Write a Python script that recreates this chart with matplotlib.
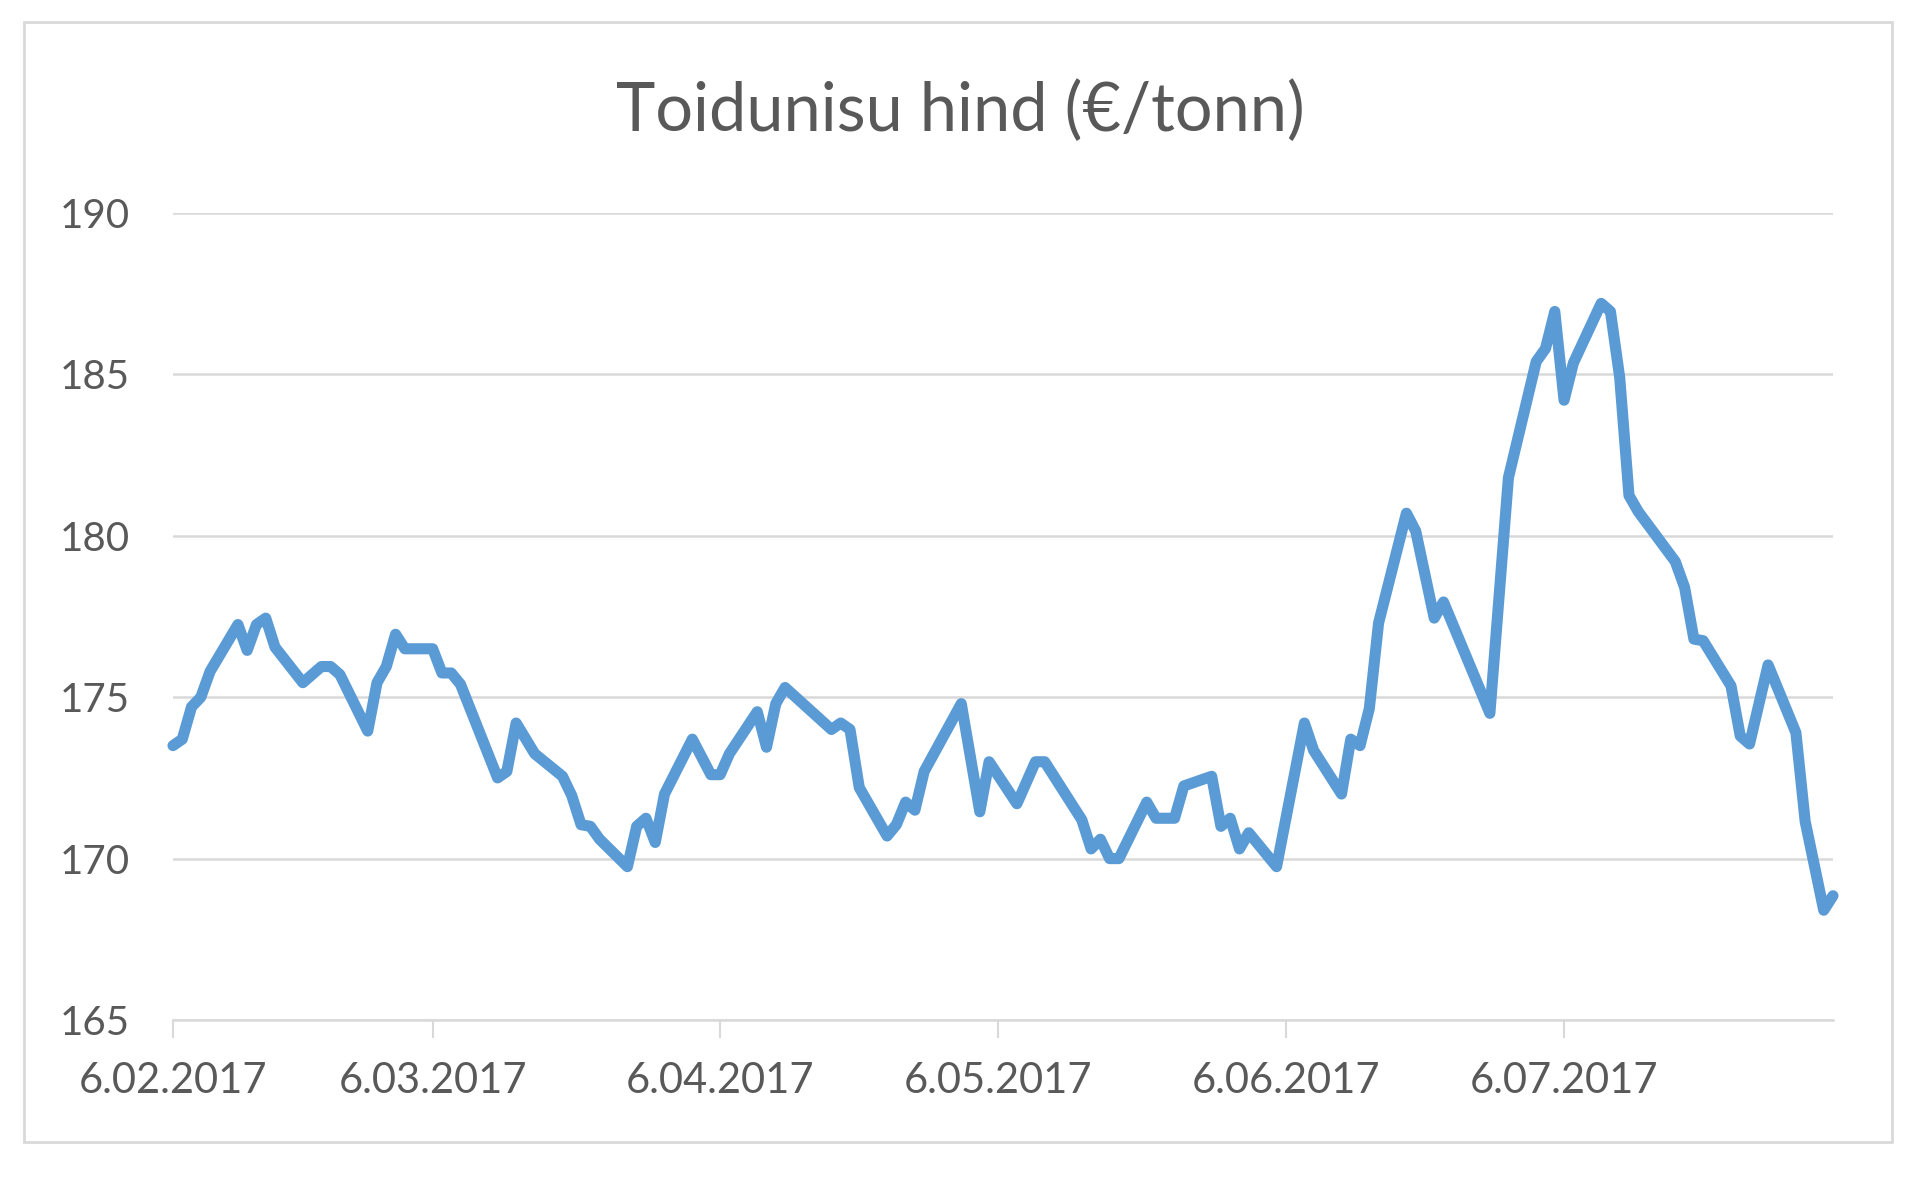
import matplotlib
matplotlib.use("Agg")
import matplotlib.pyplot as plt
from matplotlib.patches import Rectangle
import pandas as pd

title = "Toidunisu hind (€/tonn)"

dates = [
    "2017-02-06", "2017-02-07", "2017-02-08", "2017-02-09", "2017-02-10",
    "2017-02-13", "2017-02-14", "2017-02-15", "2017-02-16", "2017-02-17",
    "2017-02-20", "2017-02-22", "2017-02-23", "2017-02-24",
    "2017-02-27", "2017-02-28", "2017-03-01", "2017-03-02", "2017-03-03",
    "2017-03-06", "2017-03-07", "2017-03-08", "2017-03-09",
    "2017-03-13", "2017-03-14", "2017-03-15", "2017-03-17",
    "2017-03-20", "2017-03-21", "2017-03-22", "2017-03-23", "2017-03-24",
    "2017-03-27", "2017-03-28", "2017-03-29", "2017-03-30", "2017-03-31",
    "2017-04-03", "2017-04-05", "2017-04-06", "2017-04-07",
    "2017-04-10", "2017-04-11", "2017-04-12", "2017-04-13",
    "2017-04-18", "2017-04-19", "2017-04-20", "2017-04-21",
    "2017-04-24", "2017-04-25", "2017-04-26", "2017-04-27", "2017-04-28",
    "2017-05-02", "2017-05-04", "2017-05-05",
    "2017-05-08", "2017-05-10", "2017-05-11",
    "2017-05-15", "2017-05-16", "2017-05-17", "2017-05-18", "2017-05-19",
    "2017-05-22", "2017-05-23", "2017-05-25", "2017-05-26",
    "2017-05-29", "2017-05-30", "2017-05-31", "2017-06-01", "2017-06-02",
    "2017-06-05", "2017-06-08", "2017-06-09",
    "2017-06-12", "2017-06-13", "2017-06-14", "2017-06-15", "2017-06-16",
    "2017-06-19", "2017-06-20", "2017-06-22", "2017-06-23",
    "2017-06-28", "2017-06-30",
    "2017-07-03", "2017-07-04", "2017-07-05", "2017-07-06", "2017-07-07",
    "2017-07-10", "2017-07-11", "2017-07-12", "2017-07-13", "2017-07-14",
    "2017-07-18", "2017-07-19", "2017-07-20", "2017-07-21",
    "2017-07-24", "2017-07-25", "2017-07-26", "2017-07-28",
    "2017-07-31", "2017-08-01", "2017-08-03", "2017-08-04",
]

prices = [
    173.5, 173.7, 174.7, 175.0, 175.8,
    177.25, 176.45, 177.25, 177.45, 176.55,
    175.45, 175.95, 175.95, 175.7,
    173.95, 175.45, 175.95, 176.95, 176.5,
    176.5, 175.75, 175.75, 175.4,
    172.5, 172.7, 174.2, 173.25,
    172.55, 171.95, 171.05, 171.0, 170.6,
    169.75, 171.0, 171.25, 170.5, 172.0,
    173.7, 172.6, 172.6, 173.25,
    174.55, 173.45, 174.8, 175.3,
    174.0, 174.2, 174.0, 172.2,
    170.7, 171.05, 171.75, 171.5, 172.7,
    174.8, 171.45, 173.0,
    171.7, 173.0, 173.0,
    171.2, 170.3, 170.6, 170.0, 170.0,
    171.75, 171.25, 171.25, 172.25,
    172.55, 171.0, 171.25, 170.3, 170.8,
    169.75, 174.2, 173.35,
    172.0, 173.7, 173.5, 174.65, 177.3,
    180.7, 180.15, 177.45, 177.95,
    174.5, 181.8,
    185.4, 185.8, 186.95, 184.2, 185.35,
    187.2, 186.95, 184.9, 181.25, 180.75,
    179.2, 178.4, 176.8, 176.75,
    175.35, 173.8, 173.55, 176.0,
    173.9, 171.15, 168.4, 168.85,
]

tick_dates = ["2017-02-06", "2017-03-06", "2017-04-06", "2017-05-06", "2017-06-06", "2017-07-06"]
tick_labels = ["6.02.2017", "6.03.2017", "6.04.2017", "6.05.2017", "6.06.2017", "6.07.2017"]
y_ticks = [165, 170, 175, 180, 185, 190]

FONT = "Lato"
TEXT = "#595959"
GRID = "#D9D9D9"
LINE = "#5B9BD5"

x = pd.to_datetime(dates)

fig = plt.figure(figsize=(19.2, 11.78), dpi=100)
fig.patch.set_facecolor("white")
fig.patches.append(Rectangle((24 / 1920, 36 / 1178), 1868 / 1920, 1120 / 1178,
                             transform=fig.transFigure, fill=False,
                             edgecolor=GRID, linewidth=2.0))

ax = fig.add_axes([173 / 1920, 158 / 1178, 1660 / 1920, 807 / 1178])
ax.plot(x, prices, color=LINE, linewidth=8.0, solid_joinstyle="round",
        solid_capstyle="round", zorder=3, clip_on=False)

ax.set_xlim(pd.Timestamp(dates[0]), pd.Timestamp(dates[-1]))
ax.set_ylim(165, 190)
ax.set_yticks(y_ticks)
ax.set_yticklabels([str(v) for v in y_ticks])
ax.set_xticks(pd.to_datetime(tick_dates))
ax.set_xticklabels(tick_labels)

for s in ["top", "right", "left"]:
    ax.spines[s].set_visible(False)
ax.spines["bottom"].set_color(GRID)
ax.spines["bottom"].set_linewidth(1.8)
ax.yaxis.grid(True, color=GRID, linewidth=1.8, zorder=0)
ax.set_axisbelow(True)

ax.tick_params(axis="y", length=0, pad=31, labelsize=29, labelcolor=TEXT)
ax.tick_params(axis="x", length=13, width=1.5, color=GRID, pad=17,
               labelsize=30, labelcolor=TEXT)
for lab in ax.get_xticklabels() + ax.get_yticklabels():
    lab.set_fontfamily(FONT)

fig.text(960 / 1920, 1 - 112 / 1178, title, ha="center", va="center",
         fontsize=48, color=TEXT, fontfamily=FONT)

fig.savefig("out.png", dpi=100, facecolor="white")
